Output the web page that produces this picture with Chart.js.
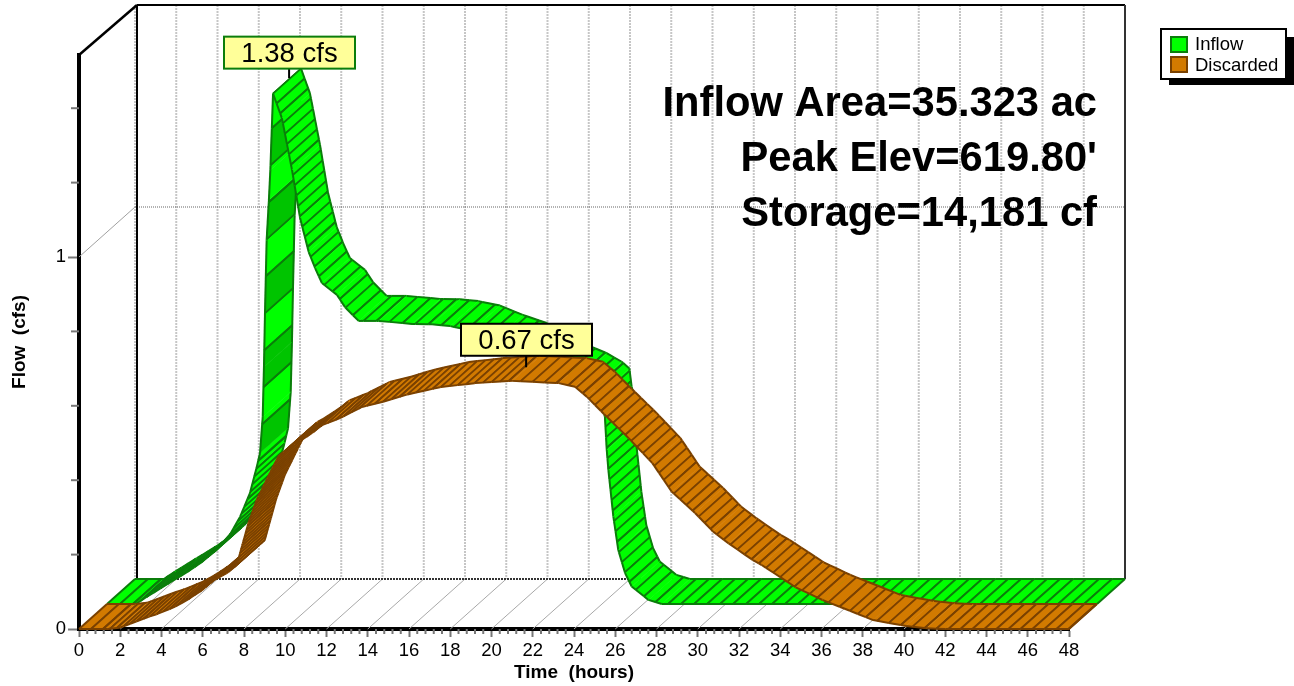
<!DOCTYPE html>
<html>
<head>
<meta charset="utf-8">
<title>Pond hydrograph</title>
<script src="https://cdn.jsdelivr.net/npm/chart.js@4/dist/chart.umd.min.js"></script>
<style>html,body{margin:0;padding:0;background:#fff}canvas{display:block}</style>
</head>
<body>
<canvas id="c" width="1294" height="686"></canvas>
<script>
const inflowTimes = [0,1.4,2,3,4,4.6,5.3,6,6.45,6.93,7.26,7.42,7.55,7.61,7.66,7.74,7.85,7.92,8.05,8.48,8.97,9.36,9.78,10.09,10.42,11.15,11.54,12.2,13.17,14.79,15.76,16.65,17.7,18.8,19.96,22.14,22.87,23.6,23.97,24.08,24.14,24.23,24.31,24.55,24.79,25.12,25.44,26.25,26.9,48];
const inflowFlows = [0,0,0.022,0.056,0.09,0.113,0.145,0.19,0.234,0.298,0.368,0.406,0.503,0.637,0.782,0.978,1.086,1.167,1.372,1.306,1.167,1.038,0.946,0.903,0.863,0.831,0.798,0.761,0.761,0.753,0.752,0.747,0.735,0.71,0.688,0.624,0.607,0.584,0.566,0.517,0.504,0.414,0.36,0.235,0.145,0.083,0.047,0.011,0,0];
const discardedTimes = [0,1.4,2,3.38,3.77,4.66,5.3,5.98,6.5,7.16,7.65,7.94,8.21,8.62,9.26,9.66,10.23,10.47,11.3,11.78,12.65,13.72,14.74,15.89,17.5,19.2,21,23.26,24.05,24.63,25.45,26.65,27.8,28.74,29.87,30.74,31.5,32.68,33.1,34.75,36.05,37.38,38.5,40.1,41.1,42,48];
const discardedFlows = [0,0,0.004,0.033,0.04,0.06,0.08,0.105,0.13,0.15,0.172,0.23,0.284,0.347,0.419,0.463,0.49,0.497,0.527,0.548,0.567,0.597,0.611,0.63,0.65,0.661,0.667,0.661,0.651,0.624,0.578,0.513,0.446,0.369,0.312,0.262,0.23,0.185,0.172,0.112,0.078,0.049,0.024,0.008,0.002,0,0];
const xTicks = [0,2,4,6,8,10,12,14,16,18,20,22,24,26,28,30,32,34,36,38,40,42,44,46,48];
const yTickLabels = [0,1];
const seriesNames = ['Inflow','Discarded'];
const calloutTimes = [8.15,21.0];
const calloutFlows = [1.38,0.67];
const calloutTexts = ['1.38 cfs','0.67 cfs'];
const infoLines = ['Inflow Area=35.323 ac',"Peak Elev=619.80'",'Storage=14,181 cf'];

const FONT = '"Liberation Sans", Arial, sans-serif';
const DX = 28, DY = 25;   // screen shift of one depth layer of the 3D box
const STYLE = [
  {fill:'#00ff00', dark:'#00c400', line:'#0b7d0b', depth:1},
  {fill:'#d27a00', dark:'#d27a00', line:'#7a4100', depth:0}
];

function toPairs(ts, fs){ return ts.map((t,i)=>({x:t,y:fs[i]})); }

function line(ctx,x1,y1,x2,y2,color,w,dash){
  ctx.save();
  ctx.strokeStyle=color; ctx.lineWidth=w; ctx.setLineDash(dash||[]);
  ctx.beginPath(); ctx.moveTo(x1,y1); ctx.lineTo(x2,y2); ctx.stroke();
  ctx.restore();
}

const box3d = {
  id:'box3d',
  beforeDatasetsDraw(chart){
    const {ctx,scales:{x,y}} = chart;
    const bx = 2*DX, by = 2*DY;
    const x0 = x.getPixelForValue(0), y0 = y.getPixelForValue(0);
    const topY = y.top - by;
    xTicks.forEach(t=>{
      const p = x.getPixelForValue(t);
      line(ctx,p+bx,topY,p+bx,y0-by,'#c6c6c6',2,[2,1]);
      if(t>0) line(ctx,p,y0,p+bx,y0-by,'#a8a8a8',1);
    });
    const y1 = y.getPixelForValue(1);
    line(ctx,x0,y1,x0+bx,y1-by,'#a0a0a0',1);
    line(ctx,x0+bx,y1-by,x.right+bx,y1-by,'#666',1,[1,1]);
    line(ctx,x0,y.top,x0+bx+2,topY,'#000',2.5);
    line(ctx,x0+bx+2,topY,x.right+bx,topY,'#000',2);
    line(ctx,x0+bx+2,topY,x0+bx+2,y0-by,'#000',2);
    line(ctx,x.right+bx,topY,x.right+bx,y0-by,'#333',2);
    line(ctx,x0+bx,y0-by,x.right+bx,y0-by,'#333',2,[2,1]);
    for(let k=0;k<=120;k++){
      if(k%5===0) continue;
      const p = x.getPixelForValue(k*0.4);
      line(ctx,p,y0,p,y0+5,'#777',2);
    }
    for(let k=1;k<=7;k++){
      if(k===5) continue;
      const p = y.getPixelForValue(k*0.2);
      line(ctx,x0-8,p,x0,p,'#777',2);
    }
  },
  afterDatasetsDraw(chart){
    const {ctx,scales:{x,y}} = chart;
    chart.data.datasets.forEach((ds,di)=>{
      drawRibbon(ctx,x,y,ds.data,STYLE[di],di);
    });
    drawCallouts(ctx,x,y);
    drawInfo(ctx);
    drawLegend(ctx);
  }
};

function spacing(di,dxp,dyp,t){
  const rising = dyp < 0;
  const slope = Math.abs(dyp)/Math.max(Math.abs(dxp),0.01);
  if(di===0){
    if(rising && slope>6) return 37;
    if(rising) return 8;
    return slope>0.4 ? 10.5 : 13;
  }
  if(rising && slope>1.2) return 4;
  if(rising && t<11) return 7;
  if(rising) return 8.5;
  if(slope>0.4) return 8.5;
  return 12;
}

function drawRibbon(ctx,x,y,pts,st,di){
  const ox = st.depth*DX, oy = st.depth*DY;
  let acc = 0, band = 0, last = null;
  ctx.save();
  ctx.lineJoin='round'; ctx.lineCap='butt';
  const hatch = h => {
    ctx.strokeStyle=st.line; ctx.lineWidth=1.7;
    ctx.beginPath(); ctx.moveTo(h[0],h[1]); ctx.lineTo(h[0]+DX,h[1]-DY); ctx.stroke();
  };
  for(let i=0;i<pts.length-1;i++){
    const ax=x.getPixelForValue(pts[i].x)+ox, ay=y.getPixelForValue(pts[i].y)-oy;
    const bx=x.getPixelForValue(pts[i+1].x)+ox, by=y.getPixelForValue(pts[i+1].y)-oy;
    const len=Math.hypot(bx-ax,by-ay);
    const S=spacing(di,bx-ax,by-ay,pts[i].x);
    const cuts=[];
    let d=Math.max(S-acc,0.01);
    while(d<len){ cuts.push(d); d+=S; }
    const lastCut = cuts.length ? cuts[cuts.length-1] : null;
    cuts.push(len);
    let prev=0;
    cuts.forEach((c,ci)=>{
      const isHatch = ci<cuts.length-1;
      const f0=prev/len, f1=c/len;
      const px0=ax+(bx-ax)*f0, py0=ay+(by-ay)*f0;
      const px1=ax+(bx-ax)*f1, py1=ay+(by-ay)*f1;
      const color = (S===37 && band%2===1) ? st.dark : st.fill;
      ctx.beginPath();
      ctx.moveTo(px0,py0); ctx.lineTo(px1,py1);
      ctx.lineTo(px1+DX,py1-DY); ctx.lineTo(px0+DX,py0-DY); ctx.closePath();
      ctx.fillStyle=color; ctx.fill();
      ctx.strokeStyle=color; ctx.lineWidth=0.6; ctx.stroke();
      ctx.strokeStyle=st.line; ctx.lineWidth=2;
      ctx.beginPath(); ctx.moveTo(px0,py0); ctx.lineTo(px1,py1); ctx.stroke();
      ctx.beginPath(); ctx.moveTo(px0+DX,py0-DY); ctx.lineTo(px1+DX,py1-DY); ctx.stroke();
      if(last) hatch(last);
      if(isHatch){
        last=[px1,py1];
        hatch(last);
        band++;
      }
      prev=c;
    });
    acc = lastCut===null ? acc+len : len-lastCut;
  }
  ctx.strokeStyle=st.line; ctx.lineWidth=2;
  [pts[0],pts[pts.length-1]].forEach(p=>{
    const a=x.getPixelForValue(p.x)+ox, b=y.getPixelForValue(p.y)-oy;
    ctx.beginPath(); ctx.moveTo(a,b); ctx.lineTo(a+DX,b-DY); ctx.stroke();
  });
  ctx.restore();
}

function drawCallouts(ctx,x,y){
  const depth=[1.5,0.5], border=['#0b7d0b','#000'], gap=[9.5,11.5];
  calloutTexts.forEach((txt,i)=>{
    const tx=x.getPixelForValue(calloutTimes[i])+depth[i]*DX;
    const ty=y.getPixelForValue(calloutFlows[i])-depth[i]*DY;
    const w=131,h=32,bx=Math.round(tx-w/2+0.5),bot=ty-gap[i],top=bot-h;
    line(ctx,tx,bot,tx,ty,'#000',2);
    ctx.save();
    ctx.fillStyle='#ffff99'; ctx.strokeStyle=border[i]; ctx.lineWidth=2;
    ctx.fillRect(bx,top,w,h); ctx.strokeRect(bx,top,w,h);
    ctx.fillStyle='#000'; ctx.font='27.5px '+FONT;
    ctx.textAlign='center'; ctx.textBaseline='alphabetic';
    ctx.fillText(txt,bx+w/2,top+25);
    ctx.restore();
  });
}

function drawInfo(ctx){
  const base=[116,170.5,226];
  ctx.save();
  ctx.fillStyle='#000'; ctx.font='bold 41.7px '+FONT;
  ctx.textAlign='right'; ctx.textBaseline='alphabetic';
  infoLines.forEach((t,i)=>ctx.fillText(t,1097,base[i]));
  ctx.restore();
}

function drawLegend(ctx){
  ctx.save();
  ctx.fillStyle='#000'; ctx.fillRect(1169,37,125,48);
  ctx.fillStyle='#fff'; ctx.strokeStyle='#000'; ctx.lineWidth=2;
  ctx.fillRect(1161,29,125,50); ctx.strokeRect(1161,29,125,50);
  const sy=[37,57], by=[50,71];
  seriesNames.forEach((n,i)=>{
    ctx.fillStyle=STYLE[i].fill; ctx.strokeStyle=STYLE[i].line; ctx.lineWidth=2;
    ctx.fillRect(1171,sy[i],16,15); ctx.strokeRect(1171,sy[i],16,15);
    ctx.fillStyle='#000'; ctx.font='18.5px '+FONT;
    ctx.textAlign='left'; ctx.textBaseline='alphabetic';
    ctx.fillText(n,1195,by[i]);
  });
  ctx.restore();
}

new Chart(document.getElementById('c'),{
  type:'scatter',
  data:{datasets:[
    {label:seriesNames[0],data:toPairs(inflowTimes,inflowFlows),showLine:false,pointRadius:0,borderColor:STYLE[0].line,backgroundColor:STYLE[0].fill},
    {label:seriesNames[1],data:toPairs(discardedTimes,discardedFlows),showLine:false,pointRadius:0,borderColor:STYLE[1].line,backgroundColor:STYLE[1].fill}
  ]},
  options:{
    responsive:false,animation:false,
    layout:{padding:{left:0,right:225,top:55,bottom:0}},
    plugins:{legend:{display:false},tooltip:{enabled:false},title:{display:false}},
    scales:{
      x:{
        type:'linear',min:0,max:48,
        afterFit(s){s.height=57;},
        afterBuildTicks(s){s.ticks=xTicks.map(v=>({value:v}));},
        border:{display:true,color:'#000',width:4},
        grid:{drawOnChartArea:false,drawTicks:true,tickLength:8,tickColor:'#777',tickWidth:2},
        ticks:{autoSkip:false,maxRotation:0,padding:3,color:'#000',font:{family:FONT,size:18.5}},
        title:{display:true,text:'Time  (hours)',color:'#000',font:{family:FONT,size:19,weight:'bold'},padding:{top:0,bottom:2}}
      },
      y:{
        type:'linear',min:0,max:574/372,
        afterFit(s){s.width=79;},
        afterBuildTicks(s){s.ticks=yTickLabels.map(v=>({value:v}));},
        border:{display:true,color:'#000',width:4},
        grid:{drawOnChartArea:false,drawTicks:true,tickLength:11,tickColor:'#777',tickWidth:2},
        ticks:{padding:2,color:'#000',font:{family:FONT,size:18.5}},
        title:{display:true,text:'Flow  (cfs)',color:'#000',font:{family:FONT,size:19,weight:'bold'},padding:{top:8,bottom:0}}
      }
    }
  },
  plugins:[box3d]
});
</script>
</body>
</html>
